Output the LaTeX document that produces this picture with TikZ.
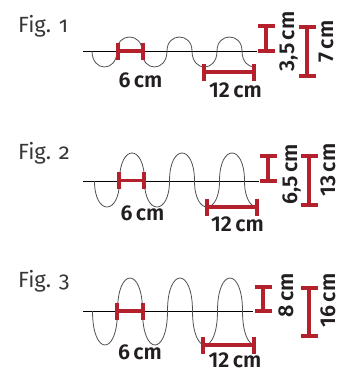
\documentclass[tikz,border=0pt]{standalone}
\usepackage{fontspec}
\setmainfont{Fira Sans}
\newfontfamily\figfont{Fira Sans}[Numbers=OldStyle]
\newfontfamily\lblfont{Fira Sans SemiBold}
\definecolor{barred}{RGB}{180,32,44}
\definecolor{wavegray}{RGB}{80,80,80}
\definecolor{figgray}{RGB}{55,55,55}
\definecolor{lblblack}{RGB}{35,31,32}
\newcommand\mywave[4]{% #1 axis y, #2 up amplitude, #3 down amplitude, #4 start x
  \draw[wave] (#4,#1)
   .. controls (#4,{#1+4/3*#3}) and ({#4+25},{#1+4/3*#3}) .. ({#4+25},#1)
   .. controls ({#4+25},{#1-4/3*#2}) and ({#4+50},{#1-4/3*#2}) .. ({#4+50},#1)
   .. controls ({#4+50},{#1+4/3*#3}) and ({#4+75},{#1+4/3*#3}) .. ({#4+75},#1)
   .. controls ({#4+75},{#1-4/3*#2}) and ({#4+100},{#1-4/3*#2}) .. ({#4+100},#1)
   .. controls ({#4+100},{#1+4/3*#3}) and ({#4+125},{#1+4/3*#3}) .. ({#4+125},#1)
   .. controls ({#4+125},{#1-4/3*#2}) and ({#4+150},{#1-4/3*#2}) .. ({#4+150},#1)
   .. controls ({#4+150},{#1+2/3*#3}) and ({#4+156.25},{#1+#3}) .. ({#4+162.5},{#1+#3});}
\newcommand\dimH[3]{% x1, x2, y
  \draw[dimbar] (#1,{#3-8.5}) -- (#1,{#3+8.5}) (#1,#3) -- (#2,#3) (#2,{#3-8.5}) -- (#2,{#3+8.5});}
\newcommand\dimV[3]{% x, y1, y2
  \draw[dimbar] ({#1-8.5},#2) -- ({#1+8.5},#2) (#1,#2) -- (#1,#3) ({#1-8.5},#3) -- ({#1+8.5},#3);}
\newcommand\cmsp{\hspace{0.16em}}
\begin{document}
\begin{tikzpicture}[x=1pt,y=-1pt,
  wave/.style={draw=wavegray,line width=0.8pt},
  axisline/.style={draw=black,line width=1pt},
  dimbar/.style={draw=barred,line width=3.2pt},
  figlabel/.style={inner sep=0pt,anchor=base west,text=figgray,font=\figfont\fontsize{22}{24}\selectfont},
  dimlabel/.style={inner sep=0pt,anchor=base,text=lblblack,font=\lblfont\fontsize{21.5}{22}\selectfont},
  vlabel/.style={dimlabel,rotate=90}]
\useasboundingbox (0,0) rectangle (344,372);
% Fig. 1
\node[figlabel] (f1) at (18,32.5) {Fig. 1};
\draw[axisline] (83,51) -- (257,51);
\mywave{51}{14}{16}{92}
\dimH{118}{143}{51}
\dimH{204}{254}{72}
\dimV{266}{26}{51}
\dimV{307}{27}{76}
\node[dimlabel] (a1) at (140.5,87) {6\cmsp cm};
\node[dimlabel] (b1) at (235.5,97) {12\cmsp cm};
\node[vlabel] (c1) at (294,41.5) {3,5\cmsp cm};
\node[vlabel] (d1) at (333,41.5) {7\cmsp cm};
% Fig. 2
\node[figlabel] (f2) at (18,159.5) {Fig. 2};
\draw[axisline] (83,181) -- (259,181);
\mywave{181}{28}{26}{94.5}
\dimH{119}{144}{180.5}
\dimH{207}{257}{207}
\dimV{268}{156}{181}
\dimV{309}{156}{205}
\node[dimlabel] (a2) at (142.5,220.7) {6\cmsp cm};
\node[dimlabel] (b2) at (237.5,231) {12\cmsp cm};
\node[vlabel] (c2) at (297,174.5) {6,5\cmsp cm};
\node[vlabel] (d2) at (335,170) {13\cmsp cm};
% Fig. 3
\node[figlabel] (f3) at (18,287) {Fig. 3};
\draw[axisline] (83,311) -- (253,311);
\mywave{311}{33}{34}{92.5}
\dimH{117}{143}{311}
\dimH{203}{254}{345}
\dimV{263}{287}{311}
\dimV{309}{288}{336}
\node[dimlabel] (a3) at (140,359.7) {6\cmsp cm};
\node[dimlabel] (b3) at (235,367.5) {12\cmsp cm};
\node[vlabel] (c3) at (293,295.5) {8\cmsp cm};
\node[vlabel] (d3) at (335,300.5) {16\cmsp cm};
\end{tikzpicture}
\end{document}
